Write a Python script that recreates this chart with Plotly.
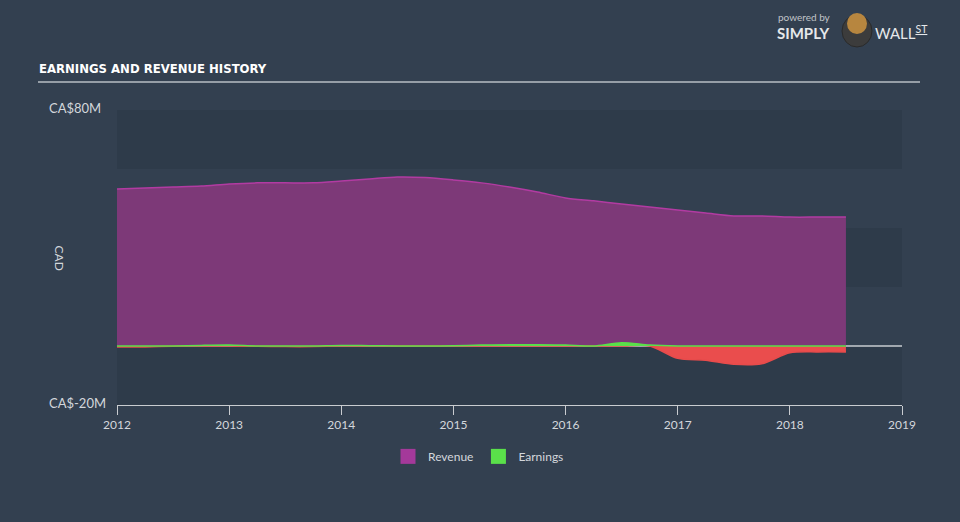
import plotly.graph_objects as go
import numpy as np

years = [2012.0, 2012.25, 2012.5, 2012.75, 2013.0, 2013.25, 2013.5, 2013.75,
         2014.0, 2014.25, 2014.5, 2014.75, 2015.0, 2015.25, 2015.5, 2015.75,
         2016.0, 2016.25, 2016.5, 2016.75, 2017.0, 2017.25, 2017.5, 2017.75,
         2018.0, 2018.25, 2018.5]
revenue = [53.2, 53.6, 53.9, 54.2, 54.9, 55.3, 55.3, 55.3,
           55.9, 56.6, 57.3, 57.1, 56.3, 55.3, 53.9, 52.2,
           50.2, 49.2, 48.1, 47.1, 46.1, 45.1, 44.1, 44.1,
           43.7, 43.7, 43.7]
earnings = [-0.3, -0.3, -0.1, 0.2, 0.3, -0.1, -0.2, -0.2,
            0.2, 0.1, 0.0, 0.0, 0.1, 0.3, 0.4, 0.4,
            0.3, 0.0, 1.1, 0.3, -4.2, -4.8, -6.2, -6.0,
            -2.3, -2.0, -2.0]
tick_years = [2012, 2013, 2014, 2015, 2016, 2017, 2018, 2019]
y_ticks = [80, -20]
y_tick_labels = ["CA$80M", "CA$-20M"]

BG = "#334050"
BAND = "#2e3b4a"
TXT = "#d3d7dc"
REV_LINE = "#b23ba2"
REV_FILL = "#7d3978"
GREEN = "#5ae04a"
RED = "#ea4d4d"

e = np.array(earnings)
e_pos = np.maximum(e, 0)
e_neg = np.minimum(e, 0)

fig = go.Figure()

fig.add_trace(go.Scatter(
    x=years, y=revenue, name="Revenue", mode="lines", showlegend=False,
    line=dict(color=REV_LINE, width=1.5, shape="spline", smoothing=0.8),
    fill="tozeroy", fillcolor=REV_FILL,
))
fig.add_trace(go.Scatter(
    x=years, y=e_neg, name="Earnings neg", mode="lines", showlegend=False,
    line=dict(color="#e84b4b", width=1.5, shape="spline", smoothing=0.8),
    fill="tozeroy", fillcolor=RED,
))
fig.add_trace(go.Scatter(
    x=years, y=e_pos, name="Earnings pos", mode="lines", showlegend=False,
    line=dict(color=GREEN, width=1.5, shape="spline", smoothing=0.8),
    fill="tozeroy", fillcolor=GREEN,
))
# legend entries (square swatches)
for nm, col in [("Revenue", "#a4399a"), ("Earnings", GREEN)]:
    fig.add_trace(go.Scatter(x=[None], y=[None], name=nm, mode="markers",
                             marker=dict(symbol="square", size=15, color=col)))

shapes = []
for y0, y1 in [(60, 80), (20, 40), (-20, 0)]:
    shapes.append(dict(type="rect", xref="paper", yref="y", x0=0, x1=1, y0=y0, y1=y1,
                       fillcolor=BAND, line=dict(width=0), layer="below"))
shapes.append(dict(type="line", xref="paper", yref="y", x0=0, x1=1, y0=0, y1=0,
                   line=dict(color="#c9ccd0", width=1.5), layer="below"))
# title underline
shapes.append(dict(type="line", xref="paper", yref="paper", x0=(38 - 117) / 785, x1=(920 - 117) / 785,
                   y0=(405 - 82) / 295, y1=(405 - 82) / 295, line=dict(color="#b9bec4", width=1.5)))
# logo emblem
shapes.append(dict(type="circle", xref="paper", yref="paper",
                   x0=(842 - 117) / 785, x1=(872 - 117) / 785,
                   y0=(405 - 47) / 295, y1=(405 - 15) / 295,
                   fillcolor="#3c3c3c", line=dict(color="#2a2a2a", width=1)))
shapes.append(dict(type="circle", xref="paper", yref="paper",
                   x0=(847 - 117) / 785, x1=(867 - 117) / 785,
                   y0=(405 - 34) / 295, y1=(405 - 13) / 295,
                   fillcolor="#b7863f", line=dict(width=0)))

annotations = [
    dict(text="EARNINGS AND REVENUE HISTORY", xref="paper", yref="paper",
         x=(37 - 117) / 785, y=(405 - 68) / 295, xanchor="left", yanchor="middle",
         showarrow=False,
         font=dict(family="DejaVu Sans Condensed, DejaVu Sans", size=13, color="#ffffff",
                   weight="bold")),
    dict(text="CAD", xref="paper", yref="paper", x=(50 - 117) / 785, y=(405 - 258) / 295,
         textangle=90, showarrow=False, font=dict(family="Lato", size=12, color=TXT)),
    dict(text="powered by", xref="paper", yref="paper", x=(776 - 117) / 785, y=(405 - 17) / 295,
         xanchor="left", yanchor="middle", showarrow=False,
         font=dict(family="Lato", size=10, color="#c0c4c9")),
    dict(text="<b>SIMPLY</b>", xref="paper", yref="paper", x=(775 - 117) / 785, y=(405 - 33) / 295,
         xanchor="left", yanchor="middle", showarrow=False,
         font=dict(family="Lato", size=15, color="#e6e8ea")),
    dict(text="WALL<sup><u>ST</u></sup>", xref="paper", yref="paper", x=(873 - 117) / 785, y=(405 - 33) / 295,
         xanchor="left", yanchor="middle", showarrow=False,
         font=dict(family="Lato", size=15, color="#e6e8ea")),
]
for v, lab in zip(y_ticks, y_tick_labels):
    annotations.append(dict(text=lab, xref="paper", yref="y", x=(47 - 117) / 785, y=v,
                            xanchor="left", yanchor="middle", yshift=2, showarrow=False,
                            font=dict(family="Lato", size=13, color=TXT)))

fig.update_layout(
    width=960, height=522,
    margin=dict(l=117, r=58, t=110, b=117),
    paper_bgcolor=BG, plot_bgcolor=BG,
    showlegend=True,
    legend=dict(orientation="h", x=(388 - 117) / 785, xanchor="left", y=-0.125, yanchor="top",
                font=dict(family="Lato", size=12, color=TXT), bgcolor="rgba(0,0,0,0)",
                itemwidth=30),
    xaxis=dict(range=[2012, 2019], tickmode="array", tickvals=tick_years,
               ticktext=[str(t) for t in tick_years], showgrid=False, zeroline=False,
               showline=True, linecolor="#c9ccd0", linewidth=1, ticks="outside",
               ticklen=9, tickcolor="#c9ccd0",
               tickfont=dict(family="Lato", size=12, color=TXT), fixedrange=True),
    yaxis=dict(range=[-20, 80], showgrid=False, zeroline=False, showticklabels=False,
               fixedrange=True),
    shapes=shapes, annotations=annotations,
)

fig.write_html("out.html")
